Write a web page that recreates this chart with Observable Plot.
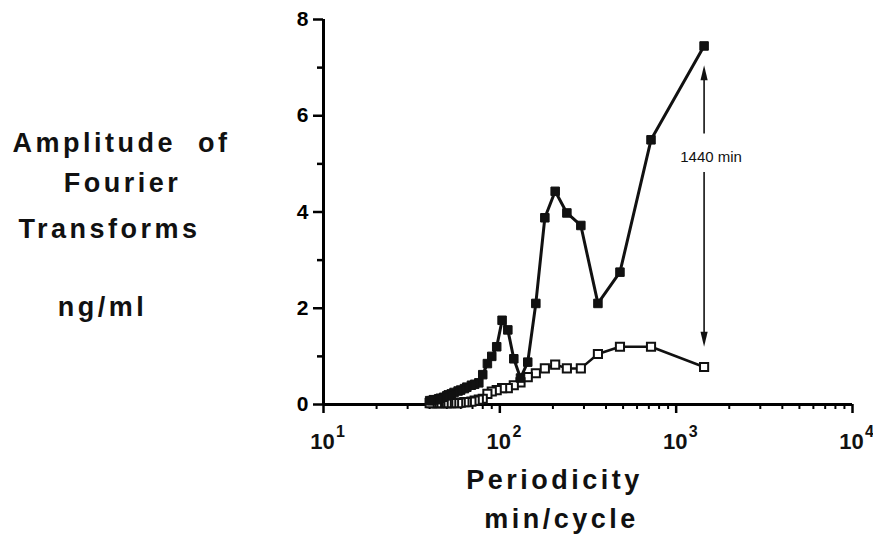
<!DOCTYPE html>
<html>
<head>
<meta charset="utf-8">
<script src="https://cdn.jsdelivr.net/npm/d3@7"></script>
<script src="https://cdn.jsdelivr.net/npm/@observablehq/plot@0.6"></script>
<style>
  body { margin: 0; background: #fff; }
  #chart { width: 873px; height: 548px; }
  svg { font-family: "Liberation Sans", Arial, sans-serif; }
</style>
</head>
<body>
<div id="chart"></div>
<script>
// Periodicity (min/cycle)
const periods = [1440,720,480,360,288,240,206,180,160,144,131,120,111,103,96,90,85,80,76,72,69,65,63,60,58,55,53,51,50,48,46,45,44,42,41,40];
// Filled squares series (ng/ml)
const filledValues = [7.45,5.5,2.75,2.1,3.72,3.98,4.43,3.88,2.1,0.88,0.55,0.95,1.55,1.75,1.2,1.0,0.85,0.62,0.45,0.42,0.4,0.36,0.33,0.3,0.28,0.25,0.22,0.2,0.18,0.15,0.13,0.12,0.1,0.1,0.08,0.08];
// Open squares series (ng/ml)
const openValues = [0.78,1.2,1.2,1.05,0.75,0.75,0.83,0.75,0.65,0.57,0.46,0.4,0.34,0.34,0.3,0.27,0.22,0.12,0.1,0.08,0.06,0.05,0.05,0.04,0.03,0.03,0.03,0.03,0.03,0.03,0.03,0.03,0.03,0.03,0.03,0.03];

const yMajor = [0,2,4,6,8];
const yMinor = [1,3,5,7];
const xMajor = [10,100,1000,10000];
const xExponents = ["1","2","3","4"];
const xMinor = [20,30,40,50,60,70,80,90,200,300,400,500,600,700,800,900,2000,3000,4000,5000,6000,7000,8000,9000];

// annotation: period 1440 min, arrows between the two series
const annotPeriod = 1440;
const annotLabel = "1440 min";
const upArrow = {from: 5.62, to: 7.05, shaftEnd: 6.8};
const downArrow = {from: 4.82, to: 1.2, shaftEnd: 1.45};

const leftLabels = ["Amplitude  of", "Fourier", "Transforms", "ng/ml"];
const xTitle = ["Periodicity", "min/cycle"];

const filled = periods.map((p, i) => ({p, v: filledValues[i]}));
const open = periods.map((p, i) => ({p, v: openValues[i]}));

const bold = {fontWeight: "bold", fill: "#111"};
const title = (t, dx, dy, anchor) => Plot.text([t], {frameAnchor: anchor, textAnchor: "middle", dx, dy, fontSize: 27, ...bold, text: d => d});

// narrow solid arrowhead with its tip at the origin, pointing up
const arrowHead = {draw(ctx) { ctx.moveTo(0, 0); ctx.lineTo(3.6, 15); ctx.lineTo(-3.6, 15); ctx.closePath(); }};

const chart = Plot.plot({
  width: 873,
  height: 548,
  marginLeft: 323,
  marginRight: 21,
  marginTop: 19,
  marginBottom: 144,
  x: {type: "log", domain: [10, 10000]},
  y: {domain: [0, 8]},
  marks: [
    // axes
    Plot.axisY({ticks: yMajor, tickSize: 10, tickPadding: 5, fontSize: 21, fontWeight: "bold", strokeWidth: 2.5, label: null}),
    Plot.axisY({ticks: yMinor, tickSize: 6, tickFormat: () => "", strokeWidth: 2.5, label: null}),
    Plot.axisX({ticks: xMajor, tickSize: 9, tickFormat: () => "", strokeWidth: 2.5, label: null}),
    Plot.axisX({ticks: xMinor, tickSize: 5, tickFormat: () => "", strokeWidth: 2, label: null}),
    Plot.ruleY([0], {strokeWidth: 3}),
    Plot.ruleX([10], {strokeWidth: 3}),
    // x tick labels 10^k
    Plot.text(xMajor, {x: d => d, y: 0, text: () => "10", dx: -1, dy: 37, fontSize: 22, ...bold}),
    Plot.text(xMajor, {x: d => d, y: 0, text: (d, i) => xExponents[i], dx: 17, dy: 27, fontSize: 16, ...bold}),
    // open series
    Plot.line(open, {x: "p", y: "v", stroke: "#111", strokeWidth: 2.5}),
    Plot.dot(open, {x: "p", y: "v", symbol: "square", r: 4.6, fill: "white", stroke: "#111", strokeWidth: 2}),
    // filled series
    Plot.line(filled, {x: "p", y: "v", stroke: "#111", strokeWidth: 3}),
    Plot.dot(filled, {x: "p", y: "v", symbol: "square", r: 4.8, fill: "#111", stroke: "#111", strokeWidth: 1}),
    // annotation arrows
    Plot.ruleX([annotPeriod], {y1: upArrow.from, y2: upArrow.shaftEnd, stroke: "#111", strokeWidth: 1.6}),
    Plot.dot([annotPeriod], {x: d => d, y: upArrow.to, symbol: arrowHead, fill: "#111", stroke: "none", r: 3}),
    Plot.ruleX([annotPeriod], {y1: downArrow.from, y2: downArrow.shaftEnd, stroke: "#111", strokeWidth: 1.6}),
    Plot.dot([annotPeriod], {x: d => d, y: downArrow.to, symbol: arrowHead, rotate: 180, fill: "#111", stroke: "none", r: 3}),
    Plot.text([annotLabel], {x: annotPeriod, y: 5.13, text: d => d, dx: 7, fontSize: 15, fill: "#111", stroke: "white", strokeWidth: 5}),
    // left labels
    title(leftLabels[0], 121 - 323, 132 - 19, "top-left"),
    title(leftLabels[1], 122 - 323, 172 - 19, "top-left"),
    title(leftLabels[2], 109 - 323, 218 - 19, "top-left"),
    title(leftLabels[3], 102 - 323, 296 - 19, "top-left"),
    // x axis title
    title(xTitle[0], 554 - 323, 488 - 404, "bottom-left"),
    title(xTitle[1], 561 - 323, 527 - 404, "bottom-left")
  ]
});
document.getElementById("chart").appendChild(chart);
// letter spacing for bold titles
d3.select(chart).selectAll("text").filter(function() {
  return leftLabels.concat(xTitle).includes(this.textContent);
}).attr("letter-spacing", "3.5px").style("white-space", "pre");
</script>
</body>
</html>
